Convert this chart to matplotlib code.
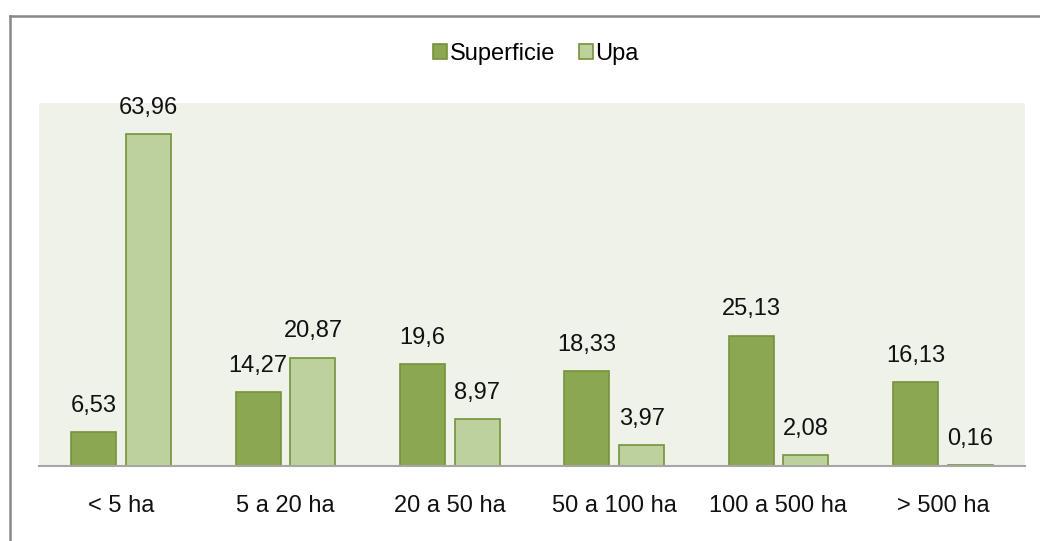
import matplotlib.pyplot as plt
import numpy as np
from matplotlib.lines import Line2D

categories = ["< 5 ha", "5 a 20 ha", "20 a 50 ha", "50 a 100 ha", "100 a 500 ha", "> 500 ha"]
superficie = [6.53, 14.27, 19.6, 18.33, 25.13, 16.13]
upa = [63.96, 20.87, 8.97, 3.97, 2.08, 0.16]


def fmt(v):
    s = f"{v:.2f}".rstrip("0").rstrip(".")
    return s.replace(".", ",")


plt.rcParams["font.family"] = ["Liberation Sans", "DejaVu Sans"]

fig = plt.figure(figsize=(10.4, 5.41), dpi=100)
ax = fig.add_axes([39 / 1040, 75 / 541, 986 / 1040, 363 / 541])
ax.set_facecolor("#EEF2E8")

x = np.arange(len(categories))
off = 0.167
w = 0.274
edge = "#76923C"
b1 = ax.bar(x - off, superficie, w, color="#8CA751", edgecolor=edge, linewidth=1.2, label="Superficie")
b2 = ax.bar(x + off, upa, w, color="#BCD19B", edgecolor=edge, linewidth=1.2, label="Upa")

for bars, vals in ((b1, superficie), (b2, upa)):
    for r, v in zip(bars, vals):
        ax.annotate(fmt(v), (r.get_x() + r.get_width() / 2, r.get_height()),
                    xytext=(0, 11), textcoords="offset points",
                    ha="center", va="bottom", fontsize=17, color="#111111")

ax.set_xlim(-0.5, 5.5)
ax.set_ylim(0, 70)
ax.set_xticks(x)
ax.set_xticklabels(categories, fontsize=17, color="#111111")
ax.tick_params(axis="x", length=0, pad=21)
ax.set_yticks([])
for s in ("top", "left", "right"):
    ax.spines[s].set_visible(False)
ax.spines["bottom"].set_color("#A6A6A6")
ax.spines["bottom"].set_linewidth(1.5)

fig.legend(handles=[b1, b2], loc="center", bbox_to_anchor=(536 / 1040, 1 - 54 / 541),
           ncol=2, frameon=False, fontsize=17, handlelength=0.6, handleheight=0.6,
           handletextpad=0.1, columnspacing=1.0)

# outer frame (left and top edges only)
fig.add_artist(Line2D([9.5 / 1040, 9.5 / 1040], [0, 1 - 15.5 / 541], transform=fig.transFigure,
                      color="#888888", linewidth=1.8))
fig.add_artist(Line2D([9.5 / 1040, 1], [1 - 15.5 / 541, 1 - 15.5 / 541], transform=fig.transFigure,
                      color="#888888", linewidth=1.8))

fig.savefig("out.png", dpi=100)
